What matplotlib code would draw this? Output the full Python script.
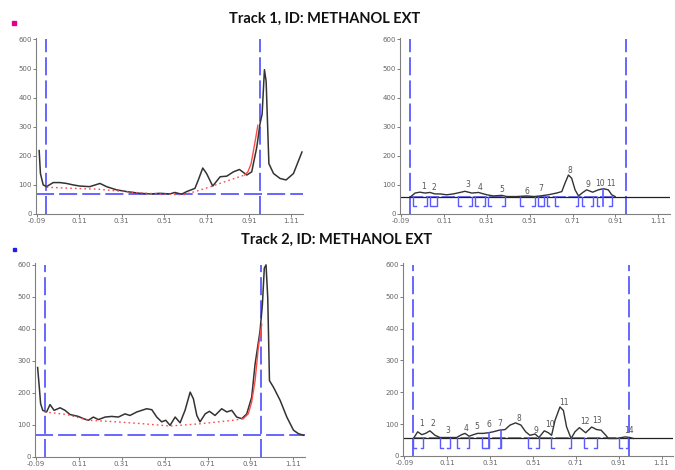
import numpy as np
import matplotlib
matplotlib.use('Agg')
import matplotlib.pyplot as plt
from matplotlib.patches import Rectangle

# axis labels (Rf on x, AU on y)
rf_ticks = [-0.09, 0.11, 0.31, 0.51, 0.71, 0.91, 1.11]
au_ticks = [0, 100, 200, 300, 400, 500, 600]
start_rf = -0.05
front_rf = 0.96

# ---- Track 1, raw scan
t1_rf = [-0.08, -0.074, -0.061, -0.045, -0.014, 0.018, 0.049, 0.08, 0.112, 0.159,
         0.207, 0.238, 0.285, 0.333, 0.396, 0.443, 0.49, 0.537, 0.56, 0.592,
         0.616, 0.655, 0.671, 0.692, 0.71, 0.739, 0.774, 0.805, 0.837, 0.865,
         0.9, 0.923, 0.947, 0.962, 0.972, 0.983, 0.991, 1.004, 1.026, 1.057,
         1.085, 1.12, 1.16]
t1_au = [218, 139, 100, 94, 108, 108, 105, 100, 96, 94,
         105, 94, 83, 77, 71, 69, 71, 69, 74, 68,
         77, 88, 117, 158, 139, 96, 128, 130, 145, 153,
         134, 145, 230, 310, 343, 496, 456, 173, 139, 122,
         117, 139, 213]
t1_base_rf = [-0.045, 0.05, 0.2, 0.37, 0.48, 0.6, 0.66, 0.73, 0.8, 0.89]
t1_base_au = [92, 89, 85, 74, 69, 66, 78, 94, 112, 134]
t1_rise_rf = [0.89, 0.905, 0.92, 0.937, 0.952]
t1_rise_au = [134, 145, 173, 241, 305]
t1_level = 67

# ---- Track 1, integrated
t1i_rf = [-0.044, -0.025, -0.002, 0.022, 0.045, 0.068, 0.092, 0.123, 0.154, 0.185,
          0.208, 0.24, 0.271, 0.31, 0.341, 0.38, 0.403, 0.45, 0.496, 0.53,
          0.558, 0.597, 0.636, 0.66, 0.675, 0.691, 0.706, 0.722, 0.738, 0.758,
          0.776, 0.804, 0.831, 0.854, 0.877, 0.893, 0.909]
t1i_au = [60, 72, 75, 72, 74, 69, 69, 66, 69, 74,
          78, 72, 74, 66, 62, 64, 60, 60, 62, 60,
          62, 66, 72, 77, 106, 134, 123, 83, 62, 74,
          83, 75, 83, 87, 83, 66, 60]
t1_zero = 60
t1_no = ['1', '2', '3', '4', '5', '6', '7', '8', '9', '10', '11']
t1_no_rf = [0.014, 0.065, 0.221, 0.278, 0.38, 0.496, 0.563, 0.699, 0.784, 0.84, 0.888]
t1_no_au = [94, 92, 102, 91, 85, 77, 89, 151, 103, 105, 105]
t1_open = [-0.033, 0.045, 0.177, 0.255, 0.317, 0.465, 0.551, 0.59, 0.629, 0.753, 0.823]
t1_close = [0.029, 0.076, 0.24, 0.302, 0.395, 0.535, 0.575, 0.737, 0.807, 0.893]
t1_max_rf = [0.854]
t1_max_au = [87]

# ---- Track 2, raw scan
t2_rf = [-0.083, -0.075, -0.069, -0.059, -0.041, -0.025, -0.006, 0.022, 0.045, 0.068,
         0.107, 0.131, 0.154, 0.177, 0.201, 0.232, 0.263, 0.294, 0.325, 0.348,
         0.38, 0.426, 0.45, 0.473, 0.496, 0.515, 0.535, 0.559, 0.582, 0.605,
         0.629, 0.644, 0.66, 0.675, 0.699, 0.719, 0.745, 0.776, 0.8, 0.823,
         0.846, 0.87, 0.893, 0.916, 0.932, 0.955, 0.966, 0.975, 0.983, 0.991,
         0.999, 1.018, 1.049, 1.08, 1.111, 1.134, 1.158]
t2_au = [279, 217, 166, 145, 140, 163, 145, 153, 145, 132,
         126, 119, 114, 124, 116, 124, 126, 124, 134, 129,
         140, 150, 147, 124, 109, 114, 98, 124, 106, 145,
         202, 181, 129, 109, 134, 142, 129, 150, 140, 145,
         124, 119, 134, 186, 290, 393, 476, 590, 600, 497,
         238, 217, 176, 124, 83, 72, 67]
t2_base_rf = [-0.051, 0.053, 0.154, 0.286, 0.41, 0.535, 0.675, 0.83, 0.877]
t2_base_au = [140, 132, 114, 109, 103, 96, 103, 114, 119]
t2_rise_rf = [0.877, 0.9, 0.916, 0.932, 0.947, 0.963]
t2_rise_au = [119, 134, 171, 238, 341, 414]
t2_level = 67

# ---- Track 2, integrated
t2i_rf = [-0.048, -0.028, -0.009, 0.009, 0.029, 0.053, 0.076, 0.115, 0.154, 0.177,
          0.193, 0.212, 0.232, 0.252, 0.278, 0.302, 0.325, 0.352, 0.38, 0.403,
          0.429, 0.454, 0.476, 0.496, 0.52, 0.538, 0.563, 0.582, 0.597, 0.613,
          0.636, 0.652, 0.667, 0.688, 0.706, 0.727, 0.756, 0.784, 0.807, 0.828,
          0.85, 0.862, 0.901, 0.94, 0.963, 0.979]
t2i_au = [55, 76, 67, 71, 79, 65, 58, 58, 58, 67,
          71, 62, 67, 71, 71, 73, 76, 81, 83, 97,
          104, 97, 76, 65, 69, 58, 79, 73, 65, 112,
          154, 143, 91, 55, 76, 89, 73, 91, 83, 81,
          65, 55, 55, 60, 58, 55]
t2_zero = 56
t2_no = ['1', '2', '3', '4', '5', '6', '7', '8', '9', '10', '11', '12', '13', '14']
t2_no_rf = [-0.009, 0.042, 0.112, 0.196, 0.247, 0.306, 0.353, 0.442, 0.524, 0.59,
            0.655, 0.753, 0.811, 0.96]
t2_no_au = [102, 102, 81, 86, 93, 99, 102, 119, 81, 99, 169, 107, 110, 81]
t2_open = [-0.048, 0.076, 0.154, 0.274, 0.488, 0.594, 0.75, 0.912]
t2_close = [-0.002, 0.123, 0.212, 0.305, 0.361, 0.538, 0.688, 0.807, 0.955]
t2_max_rf = [0.306, 0.361]
t2_max_au = [73, 81]

BLUE = '#5a5aff'
GREY = '#666666'


def setup(ax):
    ax.set_xlim(-0.095, 1.165)
    ax.set_ylim(0, 605)
    for s in ['top', 'right']:
        ax.spines[s].set_visible(False)
    for s in ['left', 'bottom']:
        ax.spines[s].set_color('#808080')
        ax.spines[s].set_linewidth(0.8)
    ax.set_xticks(rf_ticks)
    ax.set_xticklabels(['%.2f' % v for v in rf_ticks])
    ax.set_yticks(au_ticks)
    ax.tick_params(labelsize=5, colors=GREY, length=2, width=0.6, pad=1)
    ax.axvline(start_rf, ymax=600 / 605, color=BLUE, lw=1.3, dashes=(10, 2.8))
    ax.axvline(front_rf, ymax=600 / 605, color=BLUE, lw=1.3, dashes=(10, 2.8))


def raw_panel(ax, rf, au, base_rf, base_au, rise_rf, rise_au, level):
    setup(ax)
    ax.axhline(level, color=BLUE, lw=1.3, dashes=(10, 2.8))
    ax.plot(rf, au, color='#333333', lw=1.1)
    ax.plot(base_rf, base_au, color='#ff4a4a', lw=1.0, linestyle=(0, (1.2, 2.2)))
    ax.plot(rise_rf, rise_au, color='#ff4a4a', lw=1.0)


def peak_panel(ax, rf, au, zero, no, no_rf, no_au, opn, cls, mx_rf, mx_au):
    setup(ax)
    ax.plot([start_rf, 0.915], [zero, zero], color=BLUE, lw=1.2, dashes=(8, 1.5))
    ax.axhline(zero, color='#222222', lw=0.9)
    ax.plot(rf, au, color='#333333', lw=1.0)
    low = zero - 32
    for x in opn:
        ax.plot([x, x, x + 0.012], [zero, low, low], color=BLUE, lw=1.0)
    for x in cls:
        ax.plot([x, x, x - 0.012], [zero, low, low], color=BLUE, lw=1.0)
    for x, y in zip(mx_rf, mx_au):
        ax.plot([x, x], [low, y], color=BLUE, lw=1.2)
    for t, x, y in zip(no, no_rf, no_au):
        ax.text(x, y, t, fontsize=5.5, color='#555555', ha='center', va='center')


fig = plt.figure(figsize=(6.75, 4.7), dpi=100)

ax1 = fig.add_axes([0.0533, 0.5447, 0.3956, 0.3745])
ax2 = fig.add_axes([0.5926, 0.5447, 0.40, 0.3745])
ax3 = fig.add_axes([0.0519, 0.0283, 0.40, 0.4115])
ax4 = fig.add_axes([0.5975, 0.0298, 0.40, 0.41])

raw_panel(ax1, t1_rf, t1_au, t1_base_rf, t1_base_au, t1_rise_rf, t1_rise_au, t1_level)
peak_panel(ax2, t1i_rf, t1i_au, t1_zero, t1_no, t1_no_rf, t1_no_au,
           t1_open, t1_close, t1_max_rf, t1_max_au)
raw_panel(ax3, t2_rf, t2_au, t2_base_rf, t2_base_au, t2_rise_rf, t2_rise_au, t2_level)
peak_panel(ax4, t2i_rf, t2i_au, t2_zero, t2_no, t2_no_rf, t2_no_au,
           t2_open, t2_close, t2_max_rf, t2_max_au)

fig.text(325 / 675, 1 - 19 / 470, 'Track 1, ID: METHANOL EXT', ha='center', va='center',
         fontsize=10.5, fontweight='bold', family='Lato', color='#111111')
fig.text(337 / 675, 1 - 240 / 470, 'Track 2, ID: METHANOL EXT', ha='center', va='center',
         fontsize=10.5, fontweight='bold', family='Lato', color='#111111')

fig.add_artist(Rectangle((12 / 675, 1 - 25 / 470), 4 / 675, 4 / 470,
                         transform=fig.transFigure, color='#e0008a'))
fig.add_artist(Rectangle((13 / 675, 1 - 251 / 470), 3 / 675, 3 / 470,
                         transform=fig.transFigure, color='#2020e0'))

fig.savefig('out.png', dpi=100)
